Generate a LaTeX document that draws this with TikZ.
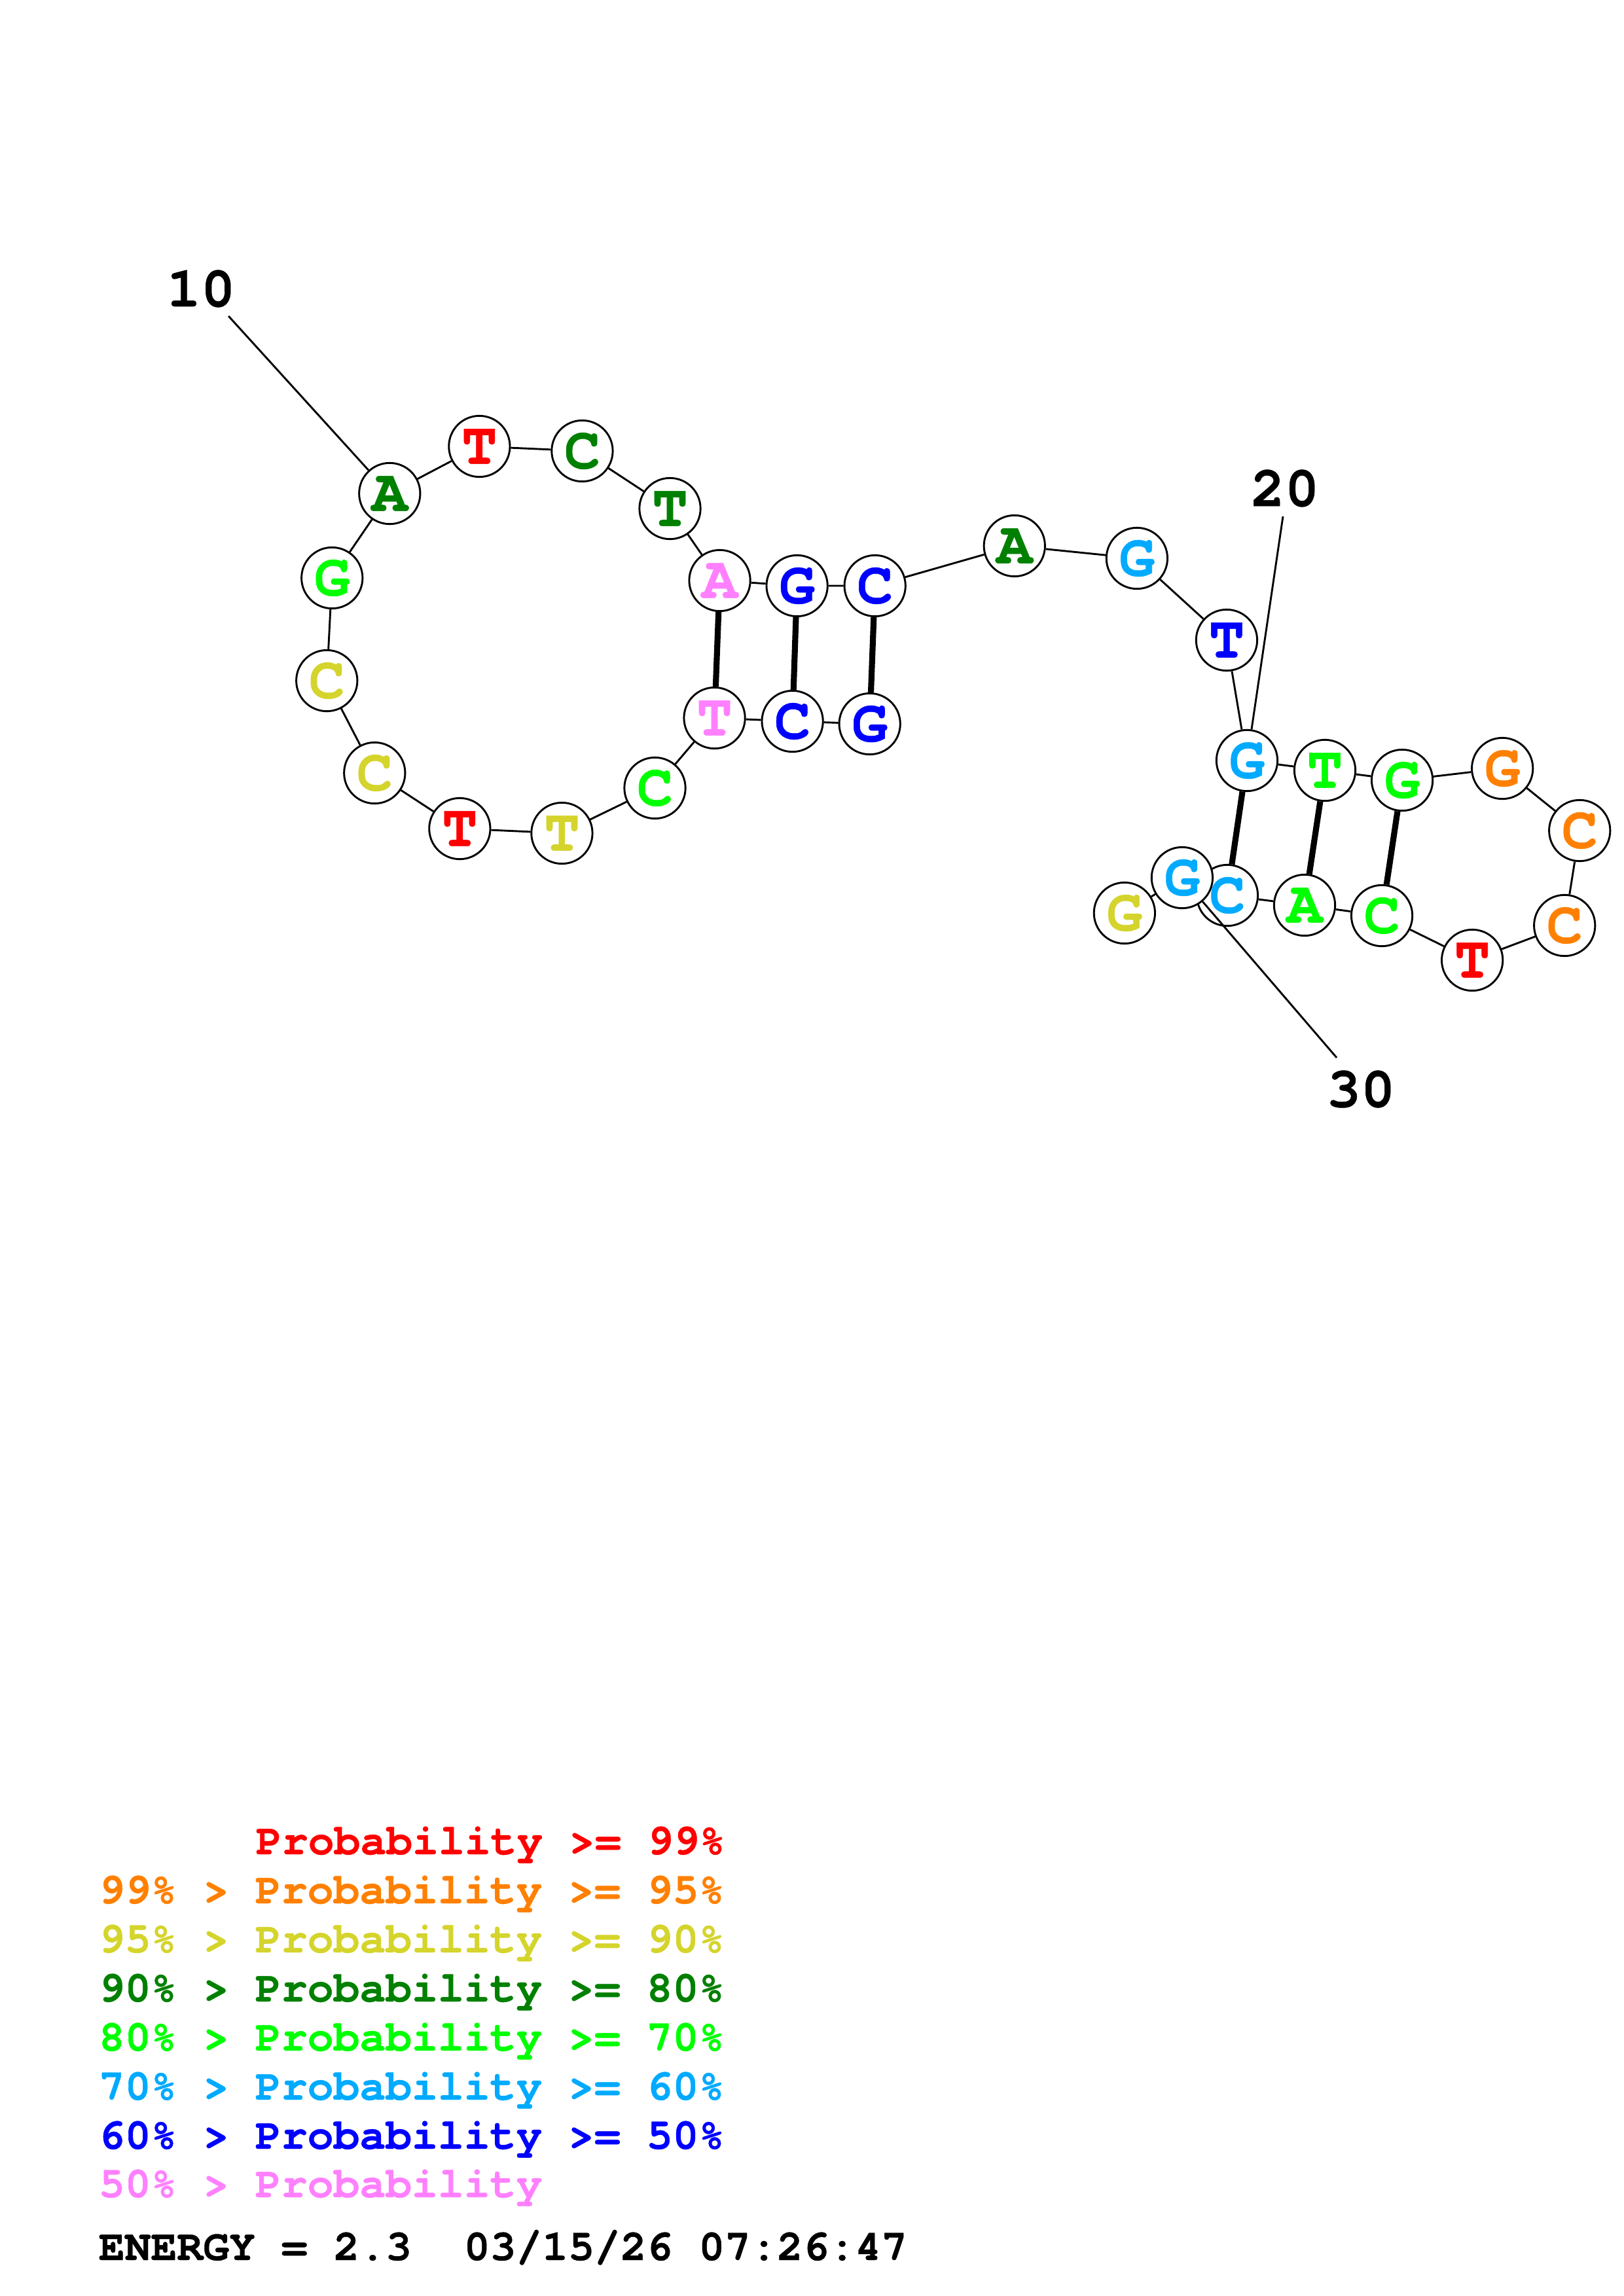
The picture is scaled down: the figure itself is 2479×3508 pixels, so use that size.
\documentclass[tikz,border=0pt]{standalone}
\usepackage{fontspec}
\setmonofont{texgyrecursor}[Extension=.otf, UprightFont=*-regular, BoldFont=*-bold, BoldFeatures={FakeBold=0.6}]
\usepackage{tikz}
\usetikzlibrary{backgrounds}

\definecolor{pr99}{RGB}{255,0,0}
\definecolor{pr95}{RGB}{255,128,0}
\definecolor{pr90}{RGB}{212,212,44}
\definecolor{pr80}{RGB}{0,128,0}
\definecolor{pr70}{RGB}{0,255,0}
\definecolor{pr60}{RGB}{0,170,255}
\definecolor{pr50}{RGB}{0,0,255}
\definecolor{prlow}{RGB}{255,128,255}

\begin{document}
\begin{tikzpicture}[
            x=0.084711mm, y=-0.084664mm,
            % Style cho vong tron base
            base/.style={circle, draw, line width=0.7pt, fill=white, minimum size=0.79cm, inner sep=0pt,
                         font=\ttfamily\bfseries\fontsize{22}{22}\selectfont},
            % Style duong backbone
            bb/.style={line width=0.7pt},
            % Style lien ket cap base
            bond/.style={line width=2.2pt},
            % Style so thu tu
            numlab/.style={inner sep=0pt, font=\ttfamily\bfseries\fontsize{21}{21}\selectfont},
            % Style dong chu giai
            legend/.style={anchor=base west, inner sep=0pt, font=\ttfamily\bfseries\fontsize{16}{16}\selectfont}
        ]
            \useasboundingbox (0,0) rectangle (2479,3508);

            % --- 1. VONG TRAI (1 - 16) ---
            \node[base, text=pr50]  (n1)  at (1328,1106) {G};
            \node[base, text=pr50]  (n2)  at (1210,1102) {C};
            \node[base, text=prlow] (n3)  at (1091,1097) {T};
            \node[base, text=pr70]  (n4)  at (1000,1204) {C};
            \node[base, text=pr90]  (n5)  at (858,1273) {T};
            \node[base, text=pr99]  (n6)  at (702,1266) {T};
            \node[base, text=pr90]  (n7)  at (572,1181) {C};
            \node[base, text=pr90]  (n8)  at (499,1040) {C};
            \node[base, text=pr70]  (n9)  at (507,883) {G};
            \node[base, text=pr80]  (n10) at (595,754) {A};
            \node[base, text=pr99]  (n11) at (732,682) {T};
            \node[base, text=pr80]  (n12) at (889,689) {C};
            \node[base, text=pr80]  (n13) at (1023,777) {T};
            \node[base, text=prlow] (n14) at (1099,887) {A};
            \node[base, text=pr50]  (n15) at (1217,895) {G};
            \node[base, text=pr50]  (n16) at (1336,895) {C};

            % --- 2. DOAN NOI (17 - 19) ---
            \node[base, text=pr80]  (n17) at (1549,834) {A};
            \node[base, text=pr60]  (n18) at (1736,853) {G};
            \node[base, text=pr50]  (n19) at (1873,978) {T};

            % --- 3. KEP TOC PHAI (20 - 31) ---
            \node[base, text=pr60]  (n20) at (1904,1162) {G};
            \node[base, text=pr70]  (n21) at (2023,1177) {T};
            \node[base, text=pr70]  (n22) at (2141,1192) {G};
            \node[base, text=pr95]  (n23) at (2294,1174) {G};
            \node[base, text=pr95]  (n24) at (2412,1269) {C};
            \node[base, text=pr95]  (n25) at (2389,1414) {C};
            \node[base, text=pr99]  (n26) at (2248,1467) {T};
            \node[base, text=pr70]  (n27) at (2110,1399) {C};
            \node[base, text=pr70]  (n28) at (1992,1383) {A};
            \node[base, text=pr60]  (n29) at (1874,1368) {C};
            \node[base, text=pr60]  (n30) at (1805,1341) {G};
            \node[base, text=pr90]  (n31) at (1717,1395) {G};

            % --- 4. BACKBONE VA CAP BASE (nam duoi cac vong tron) ---
            \begin{scope}[on background layer]
                \draw[bb] (n1) -- (n2) -- (n3) -- (n4) -- (n5) -- (n6) -- (n7) -- (n8)
                    -- (n9) -- (n10) -- (n11) -- (n12) -- (n13) -- (n14) -- (n15) -- (n16)
                    -- (n17) -- (n18) -- (n19) -- (n20) -- (n21) -- (n22) -- (n23) -- (n24)
                    -- (n25) -- (n26) -- (n27) -- (n28) -- (n29) -- (n30) -- (n31);
                \draw[bond] (n1) -- (n16);
                \draw[bond] (n2) -- (n15);
                \draw[bond] (n3) -- (n14);
                \draw[bond] (n20) -- (n29);
                \draw[bond] (n21) -- (n28);
                \draw[bond] (n22) -- (n27);
            \end{scope}

            % --- 5. SO THU TU ---
            \node[numlab] (l10) at (307,441) {10};
            \coordinate (t10) at (349,483);
            \draw[bb] (t10) -- (n10);

            \node[numlab] (l20) at (1962,746) {20};
            \coordinate (t20) at (1959,789);
            \draw[bb] (t20) -- (n20);

            \node[numlab] (l30) at (2078,1664) {30};
            \coordinate (t30) at (2041,1616);
            \draw[bb] (t30) -- (n30);

            % --- 6. CHU GIAI ---
            \node[legend, text=pr99]  (k99) at (390,2833) {Probability >= 99\%};
            \node[legend, text=pr95]  (k95) at (150,2908) {99\% > Probability >= 95\%};
            \node[legend, text=pr90]  (k90) at (150,2983) {95\% > Probability >= 90\%};
            \node[legend, text=pr80]  (k80) at (150,3058) {90\% > Probability >= 80\%};
            \node[legend, text=pr70]  (k70) at (150,3133) {80\% > Probability >= 70\%};
            \node[legend, text=pr60]  (k60) at (150,3208) {70\% > Probability >= 60\%};
            \node[legend, text=pr50]  (k50) at (150,3283) {60\% > Probability >= 50\%};
            \node[legend, text=prlow] (klow) at (150,3357) {50\% > Probability};
            \node[legend] (energy) at (150,3453) {ENERGY = 2.3\ \ 03/15/26 07:26:47};

        \end{tikzpicture}
\end{document}
